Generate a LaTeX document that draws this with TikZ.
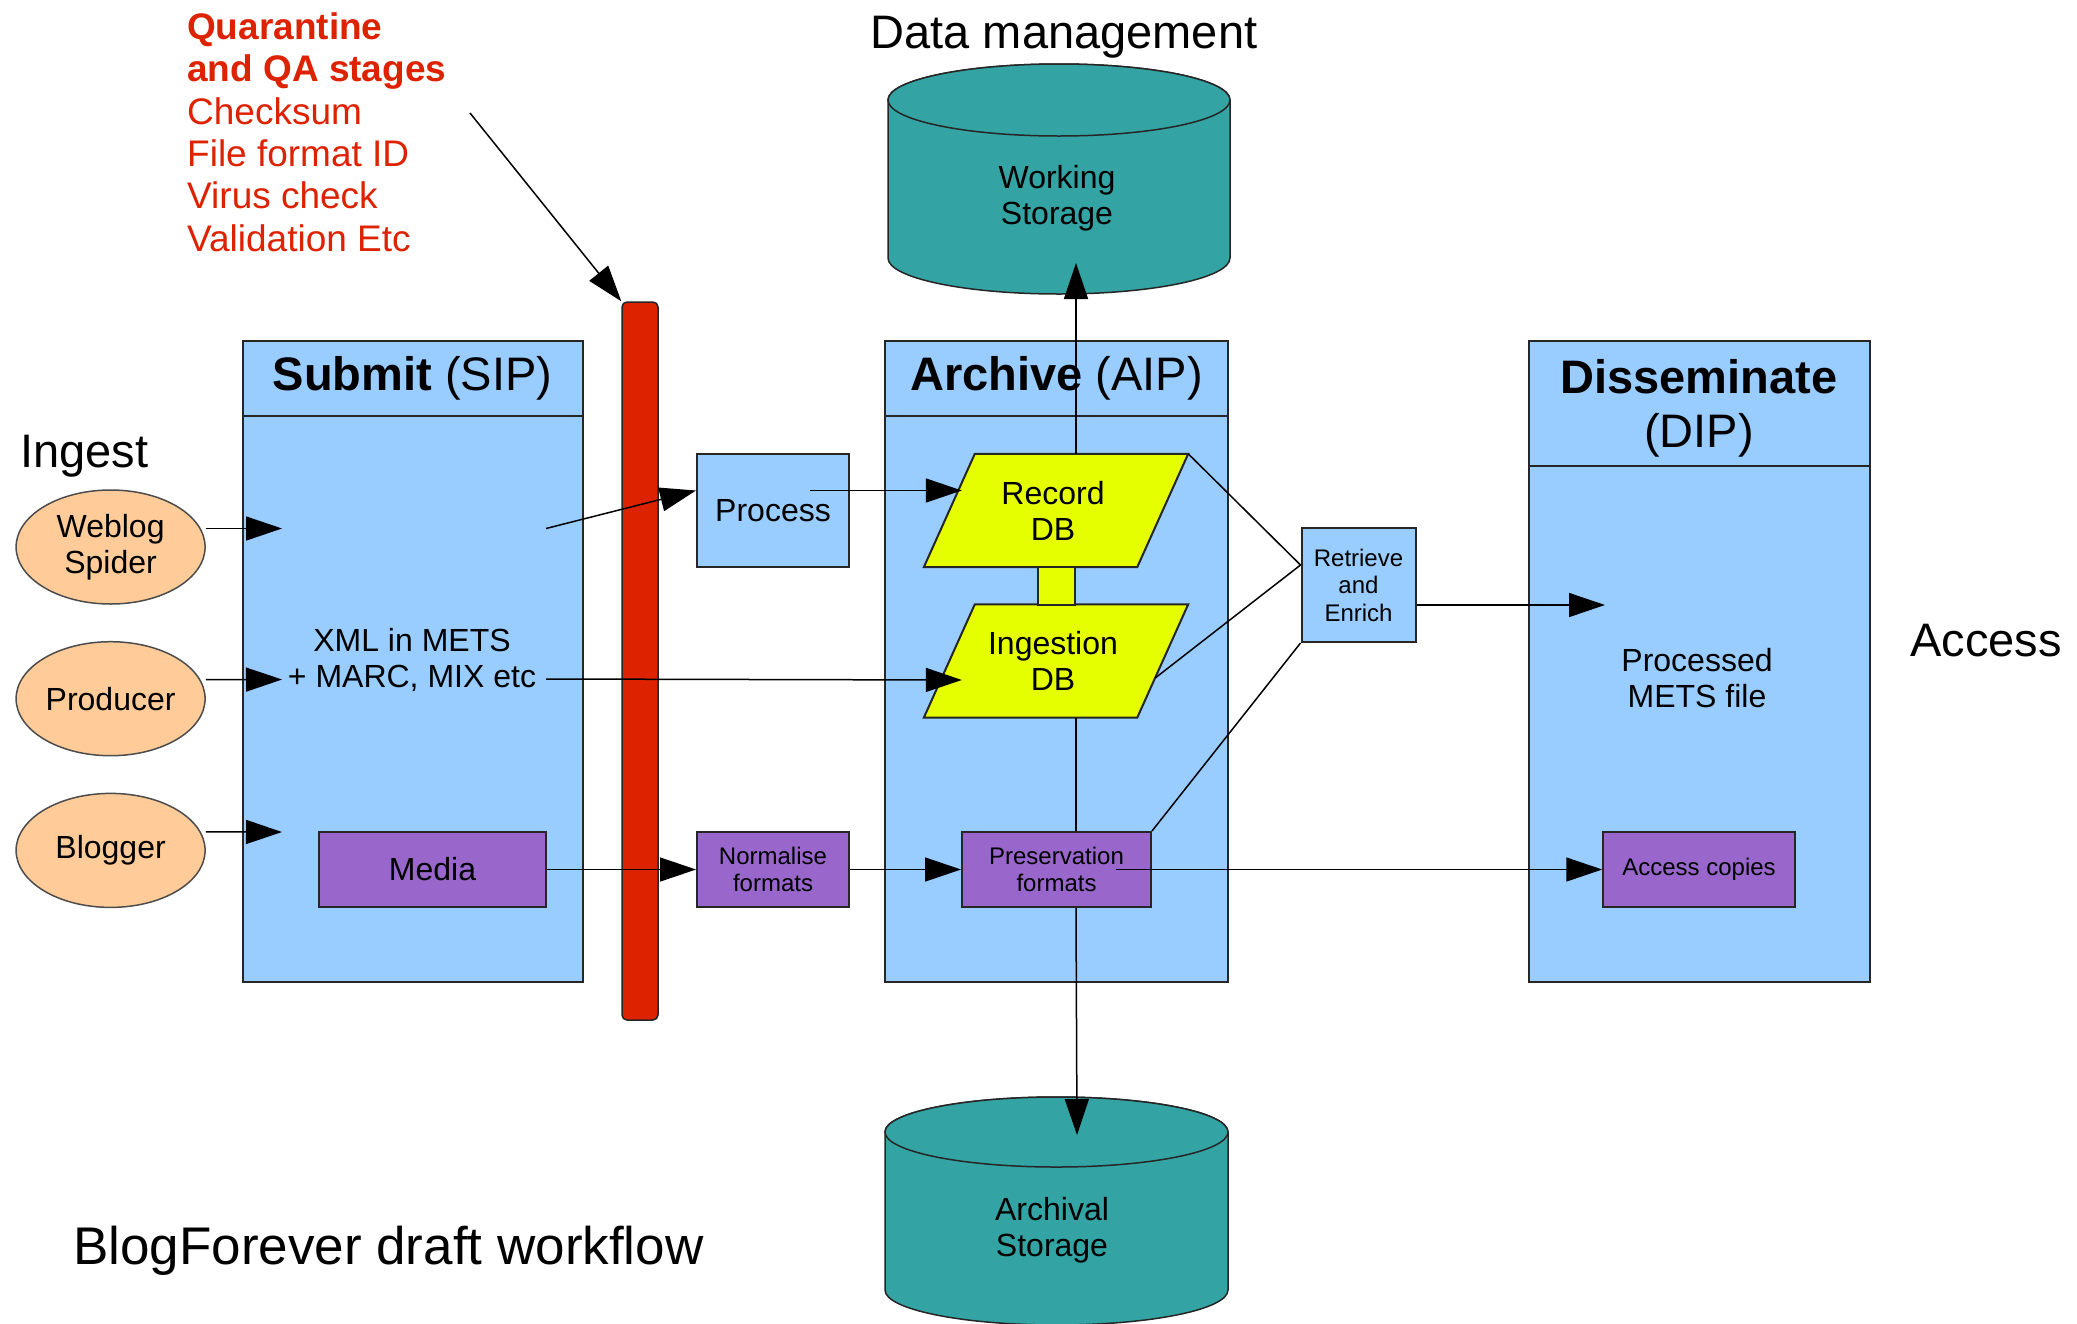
\documentclass[tikz,border=0pt]{standalone}
\usepackage{fontspec}
\setmainfont{Liberation Sans}
\usetikzlibrary{arrows.meta,shapes.geometric}

\definecolor{sipblue}{RGB}{153,204,255}
\definecolor{peach}{RGB}{255,204,153}
\definecolor{mediapurple}{RGB}{153,102,204}
\definecolor{dbyellow}{RGB}{230,255,0}
\definecolor{storeteal}{RGB}{51,163,163}
\definecolor{qared}{RGB}{221,34,0}

\newcommand{\fsbig}{\fontsize{47}{54}\selectfont}
\newcommand{\fsmid}{\fontsize{32}{36}\selectfont}
\newcommand{\fssmall}{\fontsize{24}{27.5}\selectfont}
\newcommand{\fsnote}{\fontsize{37}{42.4}\selectfont}
\newcommand{\fstitle}{\fontsize{53}{61}\selectfont}

\begin{document}
\begin{tikzpicture}[x=1pt,y=1pt]
% Define styles for nodes and edges
\tikzstyle{stagebox} = [rectangle, draw=black!85, line width=2pt, fill=sipblue, inner sep=0pt]
\tikzstyle{stagehead} = [stagebox, font=\fsbig, align=center]
\tikzstyle{source} = [ellipse, draw=black!70, line width=1.5pt, fill=peach, minimum width=189pt, minimum height=114pt, inner sep=0pt, font=\fsmid, align=center]
\tikzstyle{stepbox} = [rectangle, draw=black!85, line width=2pt, fill=sipblue, font=\fsmid, align=center, inner sep=0pt]
\tikzstyle{format} = [rectangle, draw=black!85, line width=2pt, fill=mediapurple, font=\fssmall, align=center, inner sep=0pt, minimum height=75pt]
\tikzstyle{dbframe} = [rectangle, minimum width=264pt, minimum height=113pt, inner sep=0pt]
\tikzstyle{dbshape} = [draw=black!85, line width=2pt, fill=dbyellow]
\tikzstyle{dbtext} = [font=\fsmid, align=center, inner sep=0pt]
\tikzstyle{store} = [draw=black!85, line width=1.5pt, fill=storeteal]
\tikzstyle{heading} = [font=\fsbig, inner sep=0pt]
\tikzstyle{note} = [font=\fsnote, text=qared, align=left, inner sep=0pt]
\tikzstyle{wire} = [line width=1.5pt]
\tikzstyle{arrow} = [wire, -{Triangle[length=36pt,width=24pt]}]

\fill[white] (0,0) rectangle (2077,-1323);
\useasboundingbox (0,0) rectangle (2077,-1323);

% Storage
\filldraw[store] (888,-100) -- (888,-258) arc[start angle=180, end angle=360, x radius=171pt, y radius=36pt] -- (1230,-100) arc[start angle=0, end angle=180, x radius=171pt, y radius=36pt] -- cycle;
\draw[store] (1059,-100) ellipse [x radius=171pt, y radius=36pt];
\node[font=\fsmid, align=center] (work) at (1057,-198) {Working\\Storage};

\filldraw[store] (885,-1132) -- (885,-1290) arc[start angle=180, end angle=360, x radius=171.5pt, y radius=35pt] -- (1228,-1132) arc[start angle=0, end angle=180, x radius=171.5pt, y radius=35pt] -- cycle;
\draw[store] (1056.5,-1132) ellipse [x radius=171.5pt, y radius=35pt];
\node[font=\fsmid, align=center] (archival) at (1052,-1230) {Archival\\Storage};

% Stages
\node[stagebox, minimum width=340pt, minimum height=641pt] (sip) at (412.6,-661) {};
\node[stagehead, minimum width=340pt, minimum height=75.6pt, anchor=north] (siphead) at (sip.north) {\textbf{Submit} (SIP)};
\node[stagebox, minimum width=343pt, minimum height=641pt] (aip) at (1056.5,-661) {};
\node[stagehead, minimum width=343pt, minimum height=75.6pt, anchor=north] (aiphead) at (aip.north) {\textbf{Archive} (AIP)};
\node[stagebox, minimum width=341pt, minimum height=641pt] (dip) at (1699,-661) {};
\node[stagehead, minimum width=341pt, minimum height=125.6pt, anchor=north, text depth=-4pt] (diphead) at (dip.north) {\textbf{Disseminate}\\(DIP)};

\node[draw=black!85, line width=1.5pt, fill=qared, rounded corners=5pt, minimum width=36pt, minimum height=718pt, inner sep=0pt] (bar) at (640,-661) {};

% Nodes
\node[source] (spider) at (110.6,-547) {Weblog\\Spider};
\node[source] (producer) at (110.6,-698.7) {Producer};
\node[source] (blogger) at (110.6,-850.4) {Blogger};

\node[font=\fsmid, align=center, inner sep=0pt] (xml) at (412,-660) {XML in METS\\+ MARC, MIX etc};
\node[format, font=\fsmid, minimum width=227pt] (media) at (432.5,-869.5) {Media};

\node[stepbox, minimum width=152pt, minimum height=113pt] (proc) at (773,-510.5) {Process};
\node[format, minimum width=152pt] (norm) at (773,-869.5) {Normalise\\formats};

\node[dbframe] (rec) at (1056,-510.5) {};
\node[dbframe] (ing) at (1056,-661) {};
\filldraw[dbshape] ([xshift=51pt]rec.north west) -- (rec.north east) -- ([xshift=-51pt]rec.south east) -- (rec.south west) -- cycle;
\filldraw[dbshape] ([xshift=51pt]ing.north west) -- (ing.north east) -- ([xshift=-51pt]ing.south east) -- (ing.south west) -- cycle;
\node[dbtext] (rectext) at (1053,-510.5) {Record\\DB};
\node[dbtext] (ingtext) at (1053,-661) {Ingestion\\DB};
\node[draw=black!85, line width=1.5pt, fill=dbyellow, minimum width=37pt, minimum height=38pt, inner sep=0pt] (dblink) at (1056.5,-586) {};
\node[format, minimum width=189pt] (pres) at (1056.5,-869.5) {Preservation\\formats};

\node[stepbox, font=\fssmall, minimum width=114pt, minimum height=114pt] (ret) at (1358.5,-585) {Retrieve\\and\\Enrich};

\node[font=\fsmid, align=center, inner sep=0pt] (mets) at (1697,-678) {Processed\\METS file};
\node[format, minimum width=191.5pt] (acc) at (1699,-869.5) {Access copies};

% Labels
\node[heading] (datamgmt) at (1064,-37) {Data management};
\node[heading, anchor=west] (ingest) at (20,-456) {Ingest};
\node[heading, anchor=west] (access) at (1910,-641) {Access};
\node[heading, font=\fstitle, anchor=west] (caption) at (73,-1251) {BlogForever draft workflow};
\node[note, anchor=west] (qa) at (187,-132) {\textbf{Quarantine}\\\textbf{and QA stages}\\Checksum\\File format ID\\Virus check\\Validation Etc};

\coordinate (qastart) at (470,-113);
\coordinate (spiderin) at (282,-528.5);
\coordinate (producerin) at (282,-679.5);
\coordinate (bloggerin) at (282,-832);
\coordinate (xmlout) at (546,-528.5);
\coordinate (spine) at (1076,-600);
\coordinate (worktip) at (1076,-263);
\coordinate (archtip) at (1077,-1135);
\coordinate (dipin) at (1605,-605);

% Edges
\draw[arrow] (qastart) -- (bar.north west);
\draw[arrow] ([yshift=18.5pt]spider.east) -- (spiderin);
\draw[arrow] ([yshift=19pt]producer.east) -- (producerin);
\draw[arrow] ([yshift=18.5pt]blogger.east) -- (bloggerin);
\draw[arrow] (xmlout) -- ([yshift=20pt]proc.west);
\draw[arrow] ([xshift=37pt,yshift=20pt]proc.center) -- ([xshift=38pt,yshift=20pt]rec.west);
\draw[arrow] ([xshift=10pt,yshift=-19pt]xml.east) -- ([xshift=38pt,yshift=-19pt]ing.west);
\draw[arrow] (media) -- (norm);
\draw[arrow] (norm) -- (pres);
\draw[arrow] ([xshift=-36pt]pres.east) -- (acc.west);
\draw[arrow] (rec.north -| spine) -- (worktip);
\draw[wire] (ing.south -| spine) -- (pres.north -| spine);
\draw[arrow] (pres.south -| spine) -- (archtip);
\draw[wire] (rec.north east) -- ([yshift=20pt]ret.west);
\draw[wire] ([xshift=-33pt,yshift=-17pt]ing.east) -- ([yshift=20pt]ret.west);
\draw[wire] (pres.north east) -- (ret.south west);
\draw[arrow] ([yshift=-20pt]ret.east) -- (dipin);
\end{tikzpicture}
\end{document}
